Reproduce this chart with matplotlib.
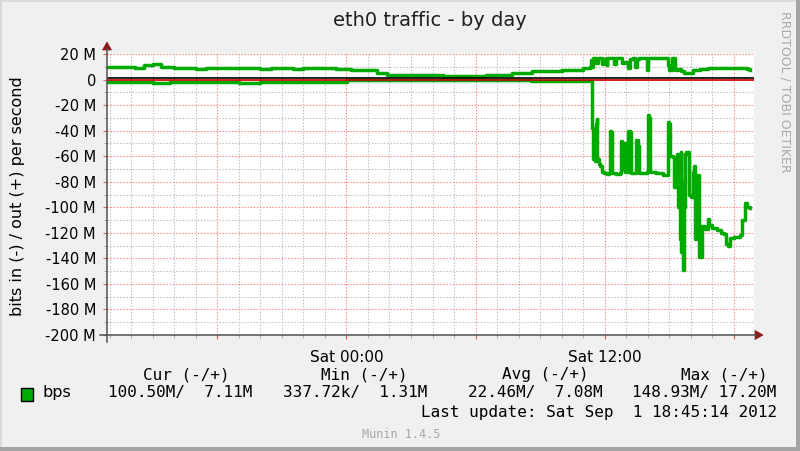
import matplotlib
matplotlib.use("Agg")
import matplotlib.pyplot as plt
import matplotlib.transforms as mtransforms
from matplotlib.ticker import MultipleLocator, FuncFormatter
from matplotlib.patches import Rectangle, Polygon
from matplotlib.lines import Line2D

# ---------------- data (hours relative to Sat 00:00, values in Mbit/s) ----------------
out_hours = [-11.12, -10.8, -10.3, -9.8, -9.4, -9.0, -8.6, -8.0, -7.5, -7.0, -6.5, -6.0,
             -5.5, -5.0, -4.5, -4.0, -3.5, -3.0, -2.5, -2.0, -1.5, -1.0, -0.5, 0.0, 0.2,
             1.2, 1.4, 1.7, 1.9, 3.0, 4.5, 5.5, 6.5, 7.5, 7.7, 8.4, 8.6, 10.0, 10.8, 11.0,
             11.3, 11.36, 11.42, 11.46, 11.6, 11.7, 11.85, 11.95, 12.08, 12.12, 12.30,
             12.45, 12.52, 12.70, 12.78, 12.95, 13.10, 13.15, 13.30, 13.42, 13.48, 13.60,
             13.72, 13.90, 13.95, 14.02, 14.90, 14.93, 14.97, 15.05, 15.10, 15.22, 15.26,
             15.40, 15.55, 15.70, 15.90, 16.10, 16.40, 16.80, 17.20, 17.60, 18.00, 18.40,
             18.60, 18.74]
out_vals = [9.5, 10.2, 9.8, 9.2, 11.5, 12.0, 9.5, 8.8, 9.3, 8.6, 9.1, 8.7,
            9.4, 8.9, 9.0, 8.4, 8.9, 9.2, 8.6, 9.3, 8.8, 8.9, 8.5, 8.3, 7.5,
            7.2, 5.0, 4.8, 3.6, 3.4, 3.1, 3.0, 3.2, 3.6, 5.0, 5.3, 6.8, 7.2, 7.8, 8.7,
            9.5, 15.0, 10.0, 16.5, 13.0, 17.0, 12.0, 16.0, 11.0, 17.2, 17.0,
            12.0, 17.0, 16.5, 13.0, 13.5, 9.0, 16.0, 16.5, 10.0, 16.0, 17.0,
            17.2, 17.2, 7.4, 17.0, 17.0, 11.0, 7.4, 7.4, 16.5, 16.5, 7.5,
            8.2, 6.5, 5.0, 5.2, 7.5, 8.2, 8.8, 9.0, 8.9, 9.2, 9.0,
            8.2, 7.1]

in_hours = [-11.12, -10.5, -9.8, -9.0, -8.2, -7.0, -6.0, -5.0, -4.0, -3.0, -2.0, -1.0, 0.0,
            0.05, 8.5, 8.55, 11.38,
            11.42, 11.46, 11.50, 11.54, 11.58, 11.62, 11.66, 11.72, 11.80, 11.88, 11.95,
            12.08, 12.21,
            12.25, 12.29, 12.33, 12.52, 12.70, 12.75, 12.80, 12.87, 12.92, 13.05, 13.10,
            13.17, 13.22, 13.40, 13.46, 13.52, 13.58, 13.86, 13.98, 14.02, 14.07, 14.12,
            14.40, 14.72, 14.90, 14.95, 15.00, 15.05, 15.15, 15.22, 15.30, 15.35, 15.40,
            15.44, 15.48, 15.52, 15.56, 15.60, 15.64, 15.68, 15.72, 15.78, 15.84, 15.90,
            16.00, 16.08, 16.13, 16.18, 16.25, 16.32, 16.38, 16.46, 16.52, 16.65, 16.78,
            16.85, 17.00, 17.20, 17.40, 17.55, 17.62, 17.72, 17.80, 18.00, 18.28, 18.38,
            18.50, 18.60, 18.74]
in_vals = [-1.8, -2.2, -1.9, -2.4, -2.0, -2.3, -1.9, -2.4, -2.1, -2.3, -2.0, -2.2, -2.1,
           -0.3, -0.3, -1.5, -1.5,
           -38, -62, -40, -64, -35, -31, -62, -66, -68, -72, -73.5,
           -74, -73,
           -40, -41, -73, -74, -73, -48, -70, -50, -72, -72, -40,
           -41, -73, -73, -47, -52, -73, -73, -72, -28, -30, -72,
           -73, -75, -75, -33, -35, -60, -61, -84, -84, -58, -100,
           -62, -125, -57, -135, -80, -149, -100, -58, -57, -57, -90,
           -92, -72, -68, -125, -80, -75, -139, -139, -115, -117, -109,
           -114, -116, -118, -120, -121, -129, -130, -124, -123, -122, -110,
           -97, -100, -100.5]

x_tick_labels = {0: "Sat 00:00", 12: "Sat 12:00"}
legend_headers = ["Cur (-/+)", "Min (-/+)", "Avg (-/+)", "Max (-/+)"]
legend_values = ["100.50M/  7.11M", "337.72k/  1.31M", "22.46M/  7.08M", "148.93M/ 17.20M"]
series_name = "bps"
last_update = "Last update: Sat Sep  1 18:45:14 2012"
title = "eth0 traffic - by day"
ylabel = "bits in (-) / out (+) per second"

# ---------------- styling ----------------
W, H = 800, 451
GREEN = "#00AA00"
BG = "#F0F0F0"
MONO = "DejaVu Sans Mono"
SANS = "DejaVu Sans"

fig = plt.figure(figsize=(W / 100, H / 100), dpi=100, facecolor=BG)
PX = mtransforms.Affine2D().scale(1 / W, -1 / H).translate(0, 1) + fig.transFigure

ax = fig.add_axes([107 / W, 1 - 335 / H, 647 / W, 281 / H])
ax.set_facecolor("white")
ax.set_xlim(-11.12, 18.93)
ax.set_ylim(-200, 20)

ax.xaxis.set_major_locator(MultipleLocator(6))
ax.xaxis.set_minor_locator(MultipleLocator(1))
ax.yaxis.set_major_locator(MultipleLocator(20))
ax.yaxis.set_minor_locator(MultipleLocator(10))
ax.xaxis.set_major_formatter(FuncFormatter(lambda v, p: x_tick_labels.get(int(round(v)), "")))
ax.yaxis.set_major_formatter(FuncFormatter(lambda v, p: "0" if abs(v) < 1e-6 else f"{int(round(v))} M"))

ax.grid(which="major", color="#FF9090", linestyle=(0, (1.4, 1.4)), linewidth=0.8)
ax.grid(which="minor", color="#C4C4C4", linestyle=(0, (1.4, 1.4)), linewidth=0.8)
ax.set_axisbelow(True)
ax.tick_params(which="major", length=3, color="#E06060", labelsize=10.5, pad=5)
ax.tick_params(which="minor", length=2, color="#A0A0A0")
ax.tick_params(axis="x", which="major", pad=8, labelsize=11)
for s in ax.spines.values():
    s.set_visible(False)

ax.plot(out_hours, out_vals, color=GREEN, lw=2.5, drawstyle="steps-post", zorder=3)
ax.plot(in_hours, in_vals, color=GREEN, lw=2.5, drawstyle="steps-post", zorder=3)

# zero rule (red) with black line just above it
ax.plot([0, 1], [0, 0], transform=ax.get_yaxis_transform(), color="#CC0000", lw=1.2, zorder=4)
up = mtransforms.ScaledTranslation(0, 1.6 / 100, fig.dpi_scale_trans)
ax.plot([0, 1], [0, 0], transform=ax.get_yaxis_transform() + up, color="black", lw=1.2, zorder=5)

# axes with arrows
fig.add_artist(Line2D([107, 107], [342, 49], transform=PX, color="#505050", lw=1.1))
fig.add_artist(Line2D([100, 756], [335, 335], transform=PX, color="#505050", lw=1.1))
fig.add_artist(Polygon([(102.5, 50), (111.5, 50), (107, 42)], closed=True, transform=PX,
                       facecolor="#8B1A1A", edgecolor="#8B1A1A", lw=0.5))
fig.add_artist(Polygon([(755, 330.5), (755, 339.5), (763, 335)], closed=True, transform=PX,
                       facecolor="#8B1A1A", edgecolor="#8B1A1A", lw=0.5))

# texts
fig.text(429.5 / W, 1 - 20 / H, title, ha="center", va="center", fontsize=14, family=SANS, color="#202020")
fig.text(18 / W, 1 - 196 / H, ylabel, ha="center", va="center", rotation=90, fontsize=11.5, family=SANS)
fig.text(785 / W, 1 - 92 / H, "RRDTOOL / TOBI OETIKER", ha="center", va="center", rotation=270,
         fontsize=9, family=SANS, color="#A8A8A8")

header_cx = [186.5, 364.5, 545, 724.5]
value_cx = [180.5, 355.5, 535.5, 704]
for t, cx in zip(legend_headers, header_cx):
    fig.text(cx / W, 1 - 375 / H, t, ha="center", va="center", fontsize=11.5, family=MONO)
for t, cx in zip(legend_values, value_cx):
    fig.text(cx / W, 1 - 393 / H, t, ha="center", va="center", fontsize=11.5, family=MONO)
fig.text(599.5 / W, 1 - 413 / H, last_update, ha="center", va="center", fontsize=11.5, family=MONO)
fig.text(42 / W, 1 - 393 / H, series_name, ha="left", va="center", fontsize=11.5, family=SANS)
fig.add_artist(Rectangle((21, 388), 12, 13, transform=PX, facecolor=GREEN, edgecolor="black", lw=1))
fig.text(401 / W, 1 - 435 / H, "Munin 1.4.5", ha="center", va="center", fontsize=8.5, family=MONO,
         color="#A8A8A8")

# frame
fig.add_artist(Rectangle((0, 0), 800, 2, transform=PX, facecolor="#DADADA", edgecolor="none"))
fig.add_artist(Rectangle((0, 0), 2, 451, transform=PX, facecolor="#DADADA", edgecolor="none"))
fig.add_artist(Rectangle((796, 0), 4, 451, transform=PX, facecolor="#A4A4A4", edgecolor="none"))
fig.add_artist(Rectangle((0, 447), 800, 4, transform=PX, facecolor="#A4A4A4", edgecolor="none"))

fig.savefig("out.png", dpi=100, facecolor=BG)
